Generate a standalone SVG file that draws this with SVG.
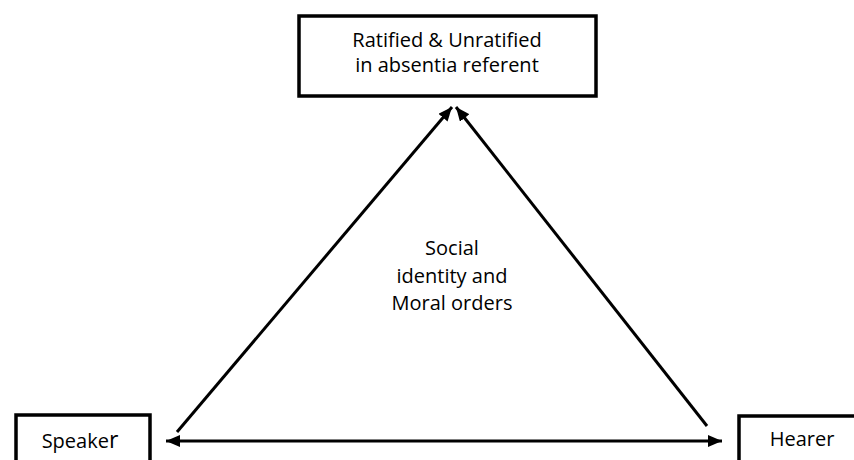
<svg xmlns="http://www.w3.org/2000/svg" width="854" height="460" viewBox="0 0 854 460">
  <style>
    .box { fill: #ffffff; stroke: #000000; stroke-width: 3.5; }
    .txt { font-family: "Open Sans", "Noto Sans", "DejaVu Sans", sans-serif; font-size: 20px; fill: #000000; text-anchor: middle; }
    .conn { stroke: #000000; stroke-width: 3; fill: none; }
  </style>
  <defs>
    <marker id="arrow" viewBox="0 0 14 12" refX="14" refY="6" markerWidth="14" markerHeight="12" markerUnits="userSpaceOnUse" orient="auto-start-reverse">
      <path d="M0,0 L14,6 L0,12 Z" fill="#000000"/>
    </marker>
  </defs>
  <rect width="854" height="460" fill="#ffffff"/>
  <g id="referent">
    <rect class="box" x="299" y="16" width="297" height="80"/>
    <text class="txt" x="447" y="47">Ratified &amp; Unratified</text>
    <text class="txt" x="447" y="72">in absentia referent</text>
  </g>
  <g id="speaker">
    <rect class="box" x="16" y="415" width="134" height="60"/>
    <text class="txt" x="80" y="448">Speake<tspan font-size="23">r</tspan></text>
  </g>
  <g id="hearer">
    <rect class="box" x="739" y="416" width="140" height="60"/>
    <text class="txt" x="802" y="446">Hearer</text>
  </g>
  <g id="center-label">
    <text class="txt" x="452" y="255">Social</text>
    <text class="txt" x="452" y="283">identity and</text>
    <text class="txt" x="452" y="310">Moral orders</text>
  </g>
  <g id="connectors">
    <line class="conn" x1="177" y1="432" x2="452" y2="107" marker-end="url(#arrow)"/>
    <line class="conn" x1="707" y1="426" x2="456" y2="107" marker-end="url(#arrow)"/>
    <line class="conn" x1="166" y1="441" x2="722" y2="441" marker-start="url(#arrow)" marker-end="url(#arrow)"/>
  </g>
</svg>
